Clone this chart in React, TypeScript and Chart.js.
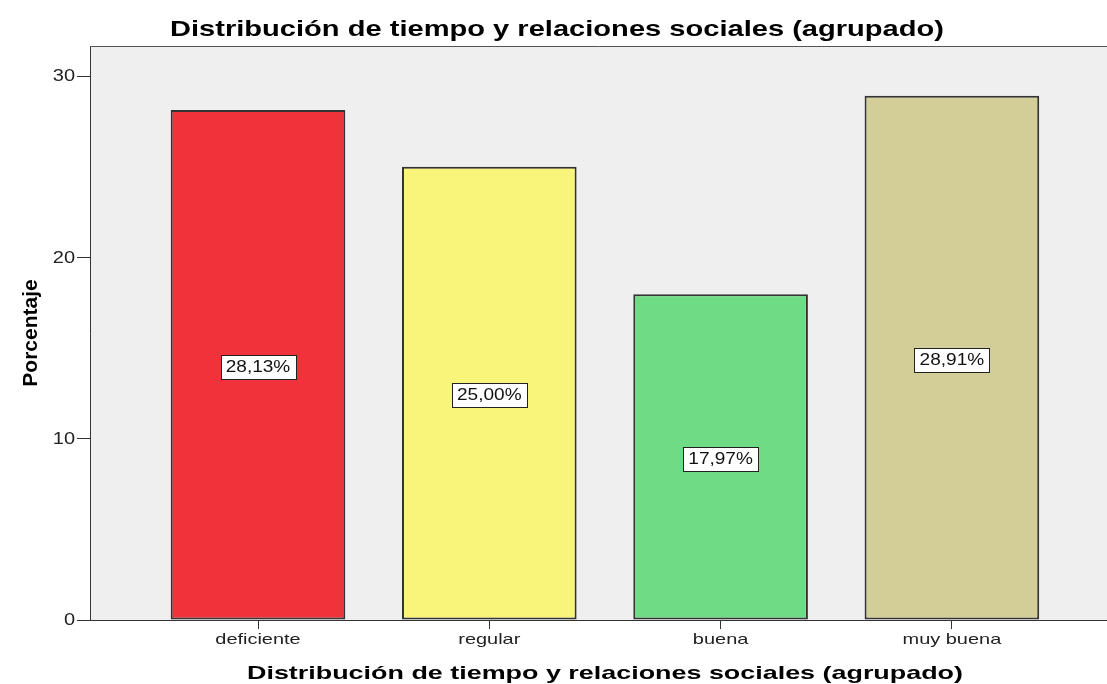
import React, { useEffect, useRef } from "react";
import { Chart, registerables } from "chart.js";

Chart.register(...registerables);

const chartTitle = "Distribución de tiempo y relaciones sociales (agrupado)";
const xAxisTitle = "Distribución de tiempo y relaciones sociales (agrupado)";
const yAxisTitle = "Porcentaje";
const categories = ["deficiente", "regular", "buena", "muy buena"];
const percentages = [28.13, 25.0, 17.97, 28.91];
const valueLabels = ["28,13%", "25,00%", "17,97%", "28,91%"];
const yTickValues = [0, 10, 20, 30];
const barColors = ["#F0333A", "#F9F57A", "#6FDC85", "#D3CE97"];

const W = 1107;
const H = 684;
const AREA_LEFT = 90;
const AREA_TOP = 46;
const AREA_BOTTOM = 620;
const FONT = "'Liberation Sans', Arial, sans-serif";

function drawStretched(
  ctx: CanvasRenderingContext2D,
  text: string,
  x: number,
  y: number,
  font: string,
  sx: number,
  align: "left" | "center" | "right",
  baseline: CanvasTextBaseline
) {
  ctx.save();
  ctx.font = font;
  ctx.textAlign = align;
  ctx.textBaseline = baseline;
  ctx.translate(x, y);
  ctx.scale(sx, 1);
  ctx.fillText(text, 0, 0);
  ctx.restore();
}

function fitScale(ctx: CanvasRenderingContext2D, text: string, font: string, target: number) {
  ctx.save();
  ctx.font = font;
  const w = ctx.measureText(text).width;
  ctx.restore();
  return target / w;
}

const decorPlugin = {
  id: "decor",
  beforeDraw(chart: any) {
    const { ctx, chartArea } = chart;
    ctx.save();
    ctx.fillStyle = "#FFFFFF";
    ctx.fillRect(0, 0, chart.width, chart.height);
    ctx.fillStyle = "#EFEFEF";
    ctx.fillRect(chartArea.left, chartArea.top, chartArea.right - chartArea.left, chartArea.bottom - chartArea.top);
    ctx.restore();
  },
  afterDraw(chart: any) {
    const { ctx, chartArea } = chart;
    const xs = chart.scales.x;
    const ys = chart.scales.y;
    ctx.save();
    // top border
    ctx.strokeStyle = "#555";
    ctx.lineWidth = 1;
    ctx.beginPath();
    ctx.moveTo(chartArea.left, chartArea.top + 0.5);
    ctx.lineTo(chartArea.right, chartArea.top + 0.5);
    ctx.stroke();

    // value labels
    const meta = chart.getDatasetMeta(0);
    const vFont = `16px ${FONT}`;
    meta.data.forEach((bar: any, i: number) => {
      const text = valueLabels[i];
      const cx = bar.x;
      const cy = (bar.y + bar.base) / 2 + 2;
      ctx.font = vFont;
      const tw = ctx.measureText(text).width * 1.19;
      const bw = Math.round(tw + 10);
      const bh = 24;
      const x0 = Math.round(cx - bw / 2) + 0.5;
      const y0 = Math.round(cy - bh / 2) + 0.5;
      ctx.fillStyle = "#FFFFFF";
      ctx.fillRect(x0, y0, bw, bh);
      ctx.strokeStyle = "#222";
      ctx.lineWidth = 1;
      ctx.strokeRect(x0, y0, bw, bh);
      ctx.fillStyle = "#111";
      drawStretched(ctx, text, cx, cy + 1, vFont, 1.19, "center", "middle");
    });

    // tick labels
    ctx.fillStyle = "#222";
    categories.forEach((c, i) => {
      drawStretched(ctx, c, xs.getPixelForValue(i), 644, `15px ${FONT}`, 1.33, "center", "alphabetic");
    });
    yTickValues.forEach((v) => {
      drawStretched(ctx, String(v), 75, ys.getPixelForValue(v) + 1, `16px ${FONT}`, 1.25, "right", "middle");
    });

    // chart title
    ctx.fillStyle = "#000";
    const tFont = `bold 22px ${FONT}`;
    drawStretched(ctx, chartTitle, 170, 36, tFont, fitScale(ctx, chartTitle, tFont, 774), "left", "alphabetic");

    // x axis title
    const xFont = `bold 19px ${FONT}`;
    drawStretched(ctx, xAxisTitle, 247, 679, xFont, fitScale(ctx, xAxisTitle, xFont, 716), "left", "alphabetic");

    // y axis title
    ctx.translate(37, 333);
    ctx.rotate(-Math.PI / 2);
    ctx.textAlign = "center";
    ctx.textBaseline = "alphabetic";
    ctx.font = "bold 21px 'Liberation Sans Narrow', 'Liberation Sans', sans-serif";
    ctx.fillText(yAxisTitle, 0, 0);
    ctx.restore();
  },
};

export default function App() {
  const ref = useRef<HTMLCanvasElement | null>(null);

  useEffect(() => {
    if (!ref.current) return;
    const spacing = 231.3;
    const xMin = -(258 - AREA_LEFT) / spacing;
    const xMax = xMin + (W - AREA_LEFT) / spacing;
    const chart = new Chart(ref.current, {
      type: "bar",
      data: {
        datasets: [
          {
            data: percentages.map((v, i) => ({ x: i, y: v })),
            backgroundColor: barColors,
            borderColor: "#333333",
            borderWidth: 2,
            borderSkipped: false,
            categoryPercentage: 0.755,
            barPercentage: 1,
          } as any,
        ],
      },
      options: {
        animation: false,
        responsive: false,
        maintainAspectRatio: false,
        layout: { padding: { top: AREA_TOP, left: 0, right: 0, bottom: 0 } },
        plugins: {
          legend: { display: false },
          title: { display: false },
          tooltip: { enabled: false },
        },
        scales: {
          x: {
            type: "linear",
            min: xMin,
            max: xMax,
            offset: false,
            afterBuildTicks: (scale: any) => {
              scale.ticks = categories.map((_, i) => ({ value: i }));
            },
            afterFit: (scale: any) => {
              scale.height = H - AREA_BOTTOM;
            },
            ticks: {
              autoSkip: false,
              maxRotation: 0,
              color: "rgba(0,0,0,0)",
              font: { family: FONT, size: 14 },
              callback: (v: any) => categories[v] ?? "",
            },
            grid: {
              offset: false,
              drawOnChartArea: false,
              drawTicks: true,
              tickLength: 9,
              color: "#333",
            },
            border: { display: true, color: "#333", width: 1 },
          },
          y: {
            type: "linear",
            min: 0,
            max: (AREA_BOTTOM - AREA_TOP) / ((AREA_BOTTOM - 76) / 30),
            afterBuildTicks: (scale: any) => {
              scale.ticks = yTickValues.map((v) => ({ value: v }));
            },
            afterFit: (scale: any) => {
              scale.width = AREA_LEFT;
            },
            ticks: {
              color: "rgba(0,0,0,0)",
              font: { family: FONT, size: 14 },
            },
            grid: {
              drawOnChartArea: false,
              drawTicks: true,
              tickLength: 13,
              color: "#333",
            },
            border: { display: true, color: "#333", width: 1 },
          },
        },
      } as any,
      plugins: [decorPlugin],
    });
    return () => chart.destroy();
  }, []);

  return (
    <div style={{ position: "absolute", left: 0, top: 0, width: W, height: H, background: "#fff" }}>
      <canvas ref={ref} width={W} height={H} style={{ display: "block", width: W, height: H }} />
    </div>
  );
}
